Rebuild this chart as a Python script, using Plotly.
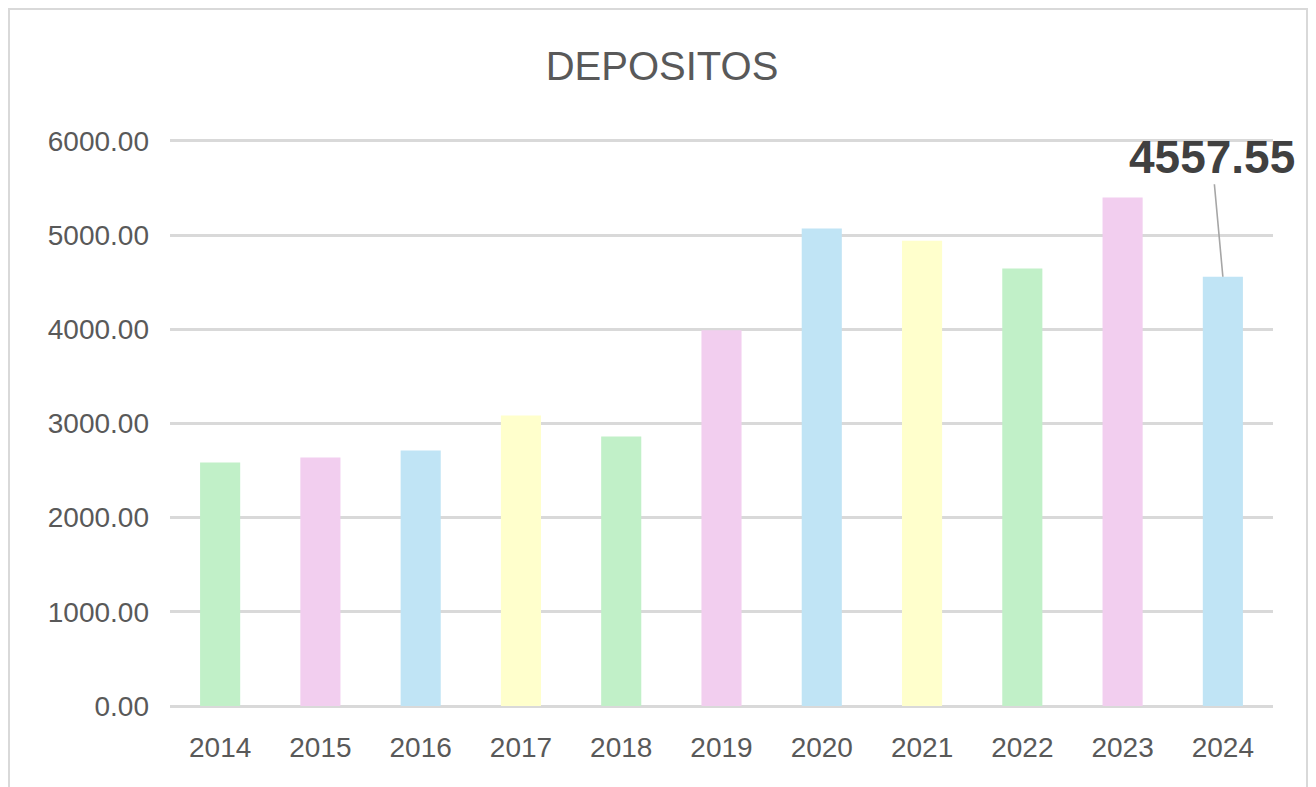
import plotly.graph_objects as go

years = ["2014", "2015", "2016", "2017", "2018", "2019", "2020", "2021", "2022", "2023", "2024"]
depositos = [2586, 2639, 2713, 3085, 2862, 3990, 5070, 4940, 4645, 5399, 4557.55]
bar_colors = ["#C1F0C8", "#F2CEEF", "#C0E4F5", "#FFFFCC", "#C1F0C8", "#F2CEEF",
              "#C0E4F5", "#FFFFCC", "#C1F0C8", "#F2CEEF", "#C0E4F5"]
y_ticks = [0, 1000, 2000, 3000, 4000, 5000, 6000]
y_tick_labels = ["0.00", "1000.00", "2000.00", "3000.00", "4000.00", "5000.00", "6000.00"]
title_text = "DEPOSITOS"
label_year = "2024"
label_text = "4557.55"

# page body has an 8px margin, so the figure is sized/offset to compensate
W, H = 1308, 779
L, R, T, B = 162, 43, 131, 81

fig = go.Figure(go.Bar(x=years, y=depositos, marker=dict(color=bar_colors, line=dict(width=0)),
                       hoverinfo="x+y"))

fig.update_layout(
    width=W, height=H,
    margin=dict(l=L, r=R, t=T, b=B),
    paper_bgcolor="white", plot_bgcolor="white",
    bargap=0.6,
    showlegend=False,
    font=dict(family="Liberation Sans, Arial, sans-serif", color="#595959"),
    title=dict(text=title_text, x=0.5, xref="container", xanchor="center",
               y=1 - 58 / H, yref="container", yanchor="middle",
               font=dict(size=40, color="#595959")),
    xaxis=dict(type="category", range=[-0.5, len(years) - 0.5], showgrid=False,
               zeroline=False, showline=False,
               ticks="", tickfont=dict(size=28, color="#595959"), ticklabelstandoff=22),
    yaxis=dict(range=[0, 6020], tickvals=y_ticks, ticktext=y_tick_labels,
               showgrid=True, gridcolor="#D9D9D9", gridwidth=2.5,
               zeroline=True, zerolinecolor="#D9D9D9", zerolinewidth=2.5,
               showline=False, ticks="", tickfont=dict(size=28, color="#595959"),
               ticklabelstandoff=20),
)

idx = years.index(label_year)
fig.add_annotation(x=idx, y=depositos[idx], text="<b>" + label_text + "</b>",
                   showarrow=True, arrowhead=0, arrowwidth=1.6, arrowcolor="#A6A6A6",
                   ax=-11, ay=-120, standoff=0,
                   font=dict(size=46, color="#404040", family="Liberation Sans, Arial, sans-serif"))

pw, ph = W - L - R, H - T - B
fig.add_shape(type="rect", xref="paper", yref="paper",
              x0=(1 - L) / pw, x1=(1299 - L) / pw,
              y0=(H - B - 800) / ph, y1=(H - B - 1) / ph,
              line=dict(color="#D9D9D9", width=2), fillcolor="rgba(0,0,0,0)", layer="below")

fig.write_html("out.html")
